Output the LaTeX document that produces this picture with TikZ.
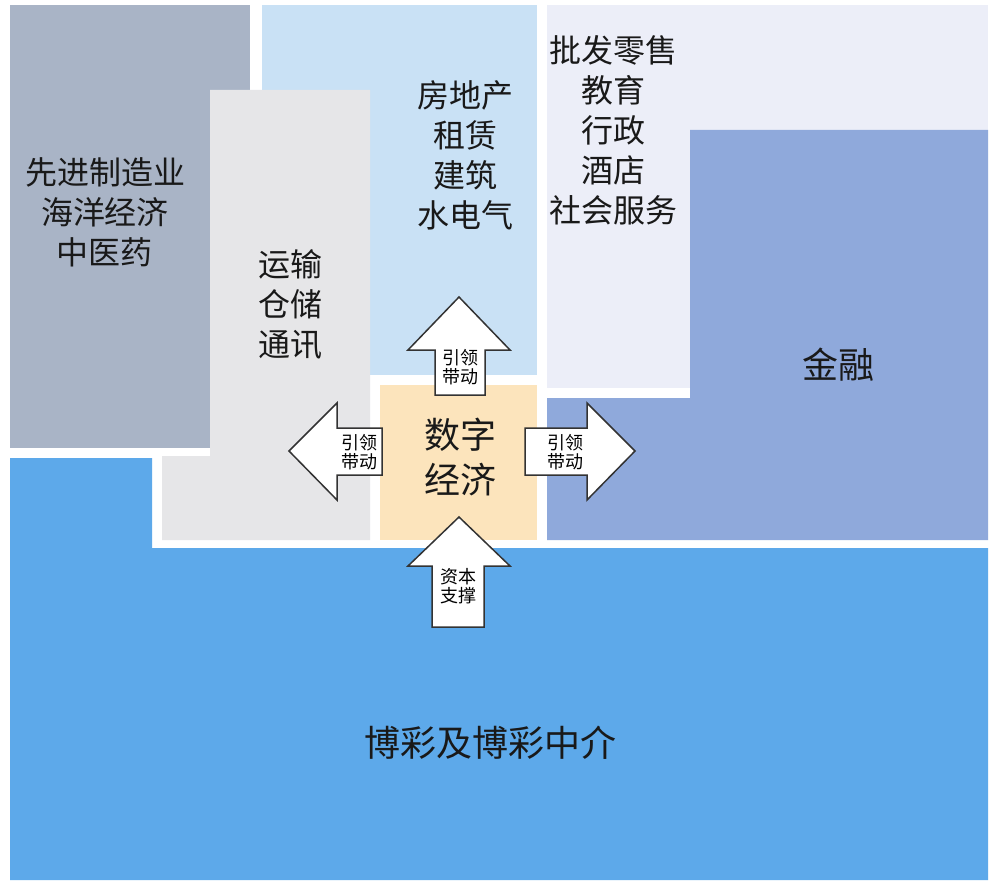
\documentclass[tikz,border=0pt]{standalone}
\usepackage{fontspec}
\setmainfont{Noto Sans CJK SC}
\begin{document}
\begin{tikzpicture}[x=1pt,y=-1pt,
  lbl/.style={align=center,font=\fontsize{32}{40}\selectfont,text=black!90},
  small/.style={align=center,font=\fontsize{18}{19}\selectfont,inner sep=0pt},
  arr/.style={draw=black!80,line width=1.5pt,fill=white,line join=miter}]
\useasboundingbox (0,0) rectangle (996,885);
\fill[white] (0,0) rectangle (996,885);
\definecolor{cA}{HTML}{A9B4C6}
\definecolor{cB}{HTML}{C9E1F5}
\definecolor{cC}{HTML}{E6E6E8}
\definecolor{cD}{HTML}{ECEEF8}
\definecolor{cE}{HTML}{8FA9DB}
\definecolor{cF}{HTML}{5DA9EA}
\definecolor{cG}{HTML}{FCE4BC}
\fill[cA] (10,5) rectangle (250,448);
\fill[cB] (262,5) rectangle (537,375);
\fill[cC] (210,90) -- (370,90) -- (370,540) -- (162,540) -- (162,456) -- (210,456) -- cycle;
\fill[cD] (547,5) rectangle (988,388);
\fill[cE] (690,130) -- (988,130) -- (988,540) -- (547,540) -- (547,398) -- (690,398) -- cycle;
\fill[cF] (10,458) -- (152,458) -- (152,548) -- (988,548) -- (988,880) -- (10,880) -- cycle;
\fill[cG] (380,385) rectangle (537,540);
% arrows
\draw[arr] (435,395) -- (435,350) -- (408,350) -- (459,297) -- (510,350) -- (485,350) -- (485,395) -- cycle;
\draw[arr] (432,627) -- (432,566) -- (408,566) -- (459,517) -- (510,566) -- (484,566) -- (484,627) -- cycle;
\draw[arr] (382,428) -- (337,428) -- (337,403) -- (289,451) -- (337,500) -- (337,475) -- (382,475) -- cycle;
\draw[arr] (525,428) -- (587,428) -- (587,403) -- (635,451) -- (587,500) -- (587,475) -- (525,475) -- cycle;
\node[small] (u) at (460,367) {引领\\带动};
\node[small] (d) at (458,586) {资本\\支撑};
\node[small] (l) at (359,452) {引领\\带动};
\node[small] (r) at (565,452) {引领\\带动};
% labels
\node[lbl] (a) at (105,212) {先进制造业\\海洋经济\\中医药};
\node[lbl] (b) at (290,305) {运输\\仓储\\通讯};
\node[lbl] (c) at (465,155) {房地产\\租赁\\建筑\\水电气};
\node[lbl] (e) at (613,130) {批发零售\\教育\\行政\\酒店\\社会服务};
\node[lbl,font=\fontsize{36}{40}\selectfont] (f) at (838,365) {金融};
\node[lbl,font=\fontsize{36}{45}\selectfont] (g) at (460,457) {数字\\经济};
\node[lbl,font=\fontsize{36}{40}\selectfont] (h) at (490,743) {博彩及博彩中介};
\end{tikzpicture}
\end{document}
